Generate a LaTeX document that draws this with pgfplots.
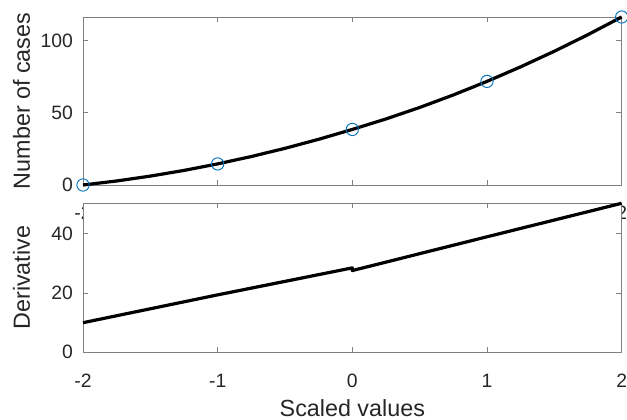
\documentclass[border=0pt]{standalone}
\usepackage{fontspec}
\setmainfont{Liberation Sans}
\usepackage{pgfplots}
\pgfplotsset{compat=1.18}
\definecolor{mblue}{RGB}{0,114,189}
\definecolor{axgray}{gray}{0.5}
\pgfplotsset{mystyle/.style={
  scale only axis, width=404pt, xmin=-2, xmax=2,
  xtick={-2,-1,0,1,2}, xticklabels={-2,-1,0,1,2},
  tick pos=both, tick align=inside, major tick length=4pt,
  axis line style={axgray, line width=0.6pt},
  every tick/.style={axgray, line width=0.6pt},
  tick label style={font=\fontsize{14.5}{16}\selectfont, text=black!85},
  xticklabel style={yshift=-12.5pt},
  yticklabel style={xshift=-4pt},
  label style={font=\fontsize{17.5}{20}\selectfont, text=black!85},
  /pgf/number format/assume math mode=true,
  ylabel style={at={(axis description cs:-0.114,0.5)}, anchor=center},
  clip=false,
}}
\begin{document}
\begin{tikzpicture}
\begin{axis}[mystyle, height=126pt, at={(0,0)}, anchor=south west,
  ymin=0, ymax=116.4, ytick={0,50,100}, ylabel={Number of cases}]
\addplot[only marks, mark=o, mark size=4.6pt, mblue, mark options={line width=0.7pt}]
  coordinates {(-2,0) (-1,14.6) (0,38.5) (1,71.8) (2,116.4)};
\addplot[black, line width=2.4pt, line join=round] coordinates {
 (-2,0) (-1.75,2.79) (-1.5,6.16) (-1.25,10.10) (-1,14.63) (-0.75,19.73)
 (-0.5,25.41) (-0.25,31.66) (0,38.5) (0.25,45.76) (0.5,53.72) (0.75,62.39)
 (1,71.78) (1.25,81.87) (1.5,92.67) (1.75,104.18) (2,116.4)};
\end{axis}
\begin{axis}[mystyle, height=112pt, at={(0,-13.5pt)}, anchor=north west,
  axis background/.style={fill=white},
  ymin=0, ymax=50.4, ytick={0,20,40}, ylabel={Derivative},
  xlabel={Scaled values},
  xlabel style={at={(axis description cs:0.5,-0.375)}, anchor=center}]
\addplot[black, line width=2.4pt, line join=round] coordinates {
 (-2,10) (-1,19.4) (0,28.5) (0,27.6) (1,39) (2,50.3)};
\end{axis}
\pgfresetboundingbox
\path (-62.25pt,138.75pt) rectangle (408pt,-176.25pt);
\end{tikzpicture}
\end{document}
